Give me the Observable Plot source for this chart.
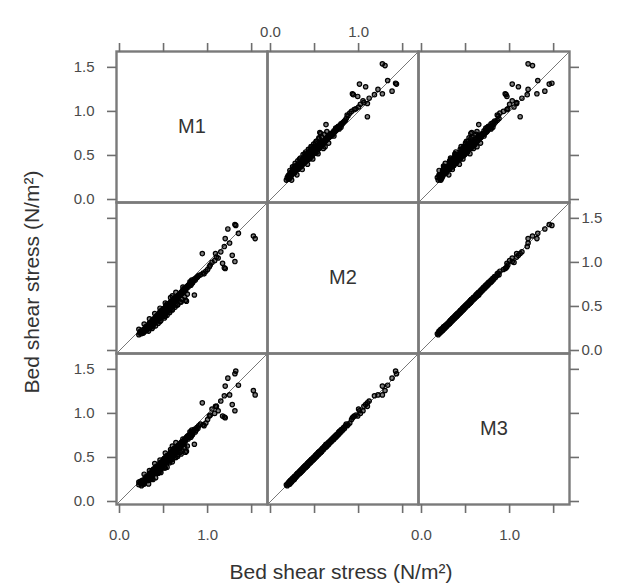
<!DOCTYPE html>
<html><head><meta charset="utf-8">
<script src="https://cdn.jsdelivr.net/npm/d3@7"></script>
<script src="https://cdn.jsdelivr.net/npm/@observablehq/plot@0.6"></script>
<style>
body{margin:0;background:#fff;font-family:"Liberation Sans",Arial,sans-serif;}
#wrap{position:relative;width:621px;height:586px;overflow:hidden;}
#xt{position:absolute;left:86px;width:510px;top:559px;text-align:center;font-size:21px;color:#333;line-height:26px;}
#yt{position:absolute;left:-223px;top:269px;width:510px;height:26px;line-height:26px;text-align:center;font-size:21px;color:#333;transform:rotate(-90deg);}
</style></head>
<body>
<div id="wrap"><div id="chart"></div>
<div id="xt">Bed shear stress (N/m²)</div>
<div id="yt">Bed shear stress (N/m²)</div>
</div>
<script>
const names = ["M1", "M2", "M3"];
const M1 = [
0.22,0.25,0.23,0.27,0.26,0.24,0.29,0.27,0.26,0.31,0.30,0.28,0.33,0.29,0.31,0.35,0.30,0.34,0.36,0.32,
0.33,0.38,0.35,0.37,0.34,0.40,0.39,0.36,0.41,0.38,0.37,0.43,0.40,0.42,0.39,0.44,0.45,0.41,0.43,0.47,
0.44,0.49,0.46,0.43,0.48,0.51,0.47,0.45,0.50,0.53,0.49,0.46,0.52,0.55,0.50,0.48,0.53,0.56,0.51,0.58,
0.54,0.52,0.57,0.55,0.53,0.59,0.56,0.61,0.54,0.58,0.60,0.57,0.62,0.59,0.76,0.61,0.63,0.60,0.65,0.62,
0.64,0.66,0.65,0.68,0.67,0.70,0.69,0.72,0.71,0.73,0.75,0.74,0.76,0.78,0.77,0.79,0.80,0.82,0.81,0.83,
0.84,0.86,0.85,0.87,0.88,0.89,0.90,0.63,0.69,0.70,0.72,0.76,0.79,0.80,0.60,0.71,0.75,0.74,0.78,0.83,
1.54,1.52,1.32,1.31,1.23,1.20,1.31,1.28,1.20,1.17,1.19,1.09,0.85,0.75,1.19,0.94,1.02,0.98,1.05,1.12,
0.95,0.92,1.00,1.08,1.15,1.25,1.35,0.96,1.03,1.10,0.66,0.70,0.60,
0.28,0.26,0.32,0.30,0.36,0.34,0.40,0.38,0.44,0.42,0.48,0.46,0.52,0.50,0.56,0.54,0.60,0.58,0.64,0.62,
0.24,0.33,0.34,0.41,0.42,0.49,0.50,0.57,0.58,0.65,0.66,0.73,0.74,0.81,0.82,0.54,0.51,0.60,0.45,0.47,
0.33,0.37,0.41,0.44,0.47,0.51,0.54,0.57,0.60,0.63,0.66,0.69,0.71,0.74,0.77,
0.22,0.28,0.34,0.40,0.46,0.52,0.58,0.64,0.72,0.82,0.38,0.46,0.52,0.57,0.64
];
const M2 = [
0.18,0.19,0.20,0.20,0.21,0.21,0.22,0.22,0.23,0.23,0.24,0.24,0.25,0.25,0.26,0.26,0.27,0.27,0.28,0.28,
0.29,0.29,0.30,0.30,0.31,0.31,0.32,0.32,0.33,0.33,0.34,0.34,0.35,0.35,0.36,0.36,0.37,0.37,0.38,0.38,
0.39,0.39,0.40,0.40,0.41,0.41,0.42,0.42,0.43,0.43,0.44,0.44,0.45,0.45,0.46,0.46,0.47,0.47,0.48,0.48,
0.49,0.49,0.50,0.50,0.51,0.51,0.52,0.52,0.53,0.53,0.54,0.54,0.55,0.55,0.56,0.56,0.57,0.57,0.58,0.58,
0.59,0.60,0.61,0.62,0.63,0.64,0.65,0.66,0.67,0.68,0.69,0.70,0.71,0.72,0.73,0.74,0.75,0.76,0.77,0.78,
0.79,0.80,0.81,0.82,0.83,0.84,0.85,0.60,0.63,0.66,0.69,0.72,0.75,0.78,0.62,0.65,0.68,0.71,0.74,0.77,
1.27,1.30,1.42,1.43,1.38,1.27,1.01,1.08,0.93,0.99,1.18,1.10,0.63,0.57,0.94,1.10,0.95,0.90,1.00,1.05,
0.88,0.86,0.92,1.02,1.12,1.22,1.33,0.87,0.97,1.06,0.52,0.55,0.47,
0.21,0.23,0.25,0.27,0.29,0.31,0.33,0.35,0.37,0.39,0.41,0.43,0.45,0.47,0.49,0.51,0.53,0.55,0.57,0.59,
0.22,0.26,0.30,0.34,0.38,0.42,0.46,0.50,0.54,0.58,0.62,0.66,0.70,0.74,0.78,0.44,0.48,0.52,0.36,0.40,
0.22,0.25,0.28,0.31,0.34,0.37,0.40,0.43,0.46,0.49,0.52,0.55,0.58,0.61,0.64,
0.24,0.30,0.36,0.42,0.48,0.54,0.60,0.66,0.72,0.80,0.27,0.33,0.39,0.45,0.51
];
const M3 = [
0.19,0.18,0.21,0.20,0.20,0.22,0.23,0.21,0.22,0.24,0.25,0.23,0.24,0.26,0.27,0.25,0.26,0.28,0.29,0.27,
0.28,0.30,0.31,0.29,0.30,0.32,0.33,0.31,0.32,0.34,0.35,0.33,0.34,0.36,0.37,0.35,0.36,0.38,0.39,0.37,
0.40,0.38,0.41,0.39,0.40,0.42,0.43,0.41,0.42,0.44,0.45,0.43,0.44,0.46,0.47,0.45,0.46,0.48,0.49,0.47,
0.48,0.50,0.51,0.49,0.50,0.52,0.53,0.51,0.52,0.54,0.55,0.53,0.54,0.56,0.57,0.55,0.56,0.58,0.59,0.57,
0.60,0.59,0.62,0.61,0.64,0.63,0.66,0.65,0.68,0.67,0.70,0.69,0.72,0.71,0.74,0.73,0.76,0.75,0.78,0.77,
0.80,0.79,0.82,0.81,0.84,0.83,0.86,0.61,0.62,0.67,0.68,0.73,0.74,0.79,0.63,0.64,0.69,0.70,0.75,0.76,
1.21,1.26,1.48,1.45,1.40,1.31,1.03,1.10,0.95,0.97,1.20,1.08,0.65,0.56,0.96,1.12,0.97,0.89,1.05,1.03,
0.87,0.88,0.93,1.00,1.14,1.21,1.32,0.86,0.98,1.08,0.53,0.54,0.48,
0.20,0.24,0.24,0.28,0.28,0.32,0.32,0.36,0.36,0.40,0.40,0.44,0.44,0.48,0.48,0.52,0.52,0.56,0.56,0.60,
0.23,0.25,0.31,0.33,0.39,0.41,0.47,0.49,0.55,0.57,0.63,0.65,0.71,0.73,0.79,0.45,0.47,0.53,0.35,0.41,
0.20,0.26,0.27,0.32,0.33,0.38,0.39,0.44,0.45,0.50,0.51,0.56,0.57,0.62,0.63,
0.22,0.31,0.35,0.43,0.47,0.55,0.59,0.67,0.71,0.81,0.25,0.34,0.38,0.46,0.50
];
const tickValues = [0, 0.5, 1, 1.5];
const xLabelValues = [0, 1];
const xLabelTexts = ["0.0", "1.0"];
const yLabelValues = [0, 0.5, 1, 1.5];
const yLabelTexts = ["0.0", "0.5", "1.0", "1.5"];
const scaleDomain = [-0.034, 1.68];

const series = {M1, M2, M3};
const pairs = [];
const offDiag = [];
for (const r of names) for (const c of names) {
  if (r === c) continue;
  offDiag.push({row: r, col: c});
  series.M1.forEach((_, k) => pairs.push({row: r, col: c, x: series[c][k], y: series[r][k]}));
}
function labelRows(values, texts, col, row) {
  return values.map((v, i) => ({col, row, v, t: texts[i]}));
}
const topLab = labelRows(xLabelValues, xLabelTexts, "M2", "M1");
const botLab = [...labelRows(xLabelValues, xLabelTexts, "M1", "M3"), ...labelRows(xLabelValues, xLabelTexts, "M3", "M3")];
const leftLab = [...labelRows(yLabelValues, yLabelTexts, "M1", "M1"), ...labelRows(yLabelValues, yLabelTexts, "M1", "M3")];
const rightLab = labelRows(yLabelValues, yLabelTexts, "M3", "M2");

const axisStyle = {tickSize: 9, fill: "none", label: null, stroke: "#6e6e6e", strokeWidth: 1.6};
const labStyle = {fill: "#4a4a4a", fontSize: 15};
const chart = Plot.plot({
  width: 621, height: 586,
  marginLeft: 115, marginRight: 51, marginTop: 50, marginBottom: 81,
  x: {domain: scaleDomain},
  y: {domain: scaleDomain},
  fx: {domain: names, padding: 0, axis: null},
  fy: {domain: names, padding: 0, axis: null},
  style: {fontFamily: "'Liberation Sans', Arial, sans-serif", background: "transparent"},
  marks: [
    Plot.link(offDiag, {x1: scaleDomain[0], y1: scaleDomain[0], x2: scaleDomain[1], y2: scaleDomain[1], fx: "col", fy: "row", stroke: "#555", strokeWidth: 0.8}),
    Plot.dot(pairs, {x: "x", y: "y", fx: "col", fy: "row", r: 2.2, stroke: "#000", strokeWidth: 1.2, fill: "#000", fillOpacity: 0.5}),
    Plot.text(names, {fx: d => d, fy: d => d, text: d => d, frameAnchor: "middle", fontSize: 20, fill: "#333"}),
    Plot.frame({stroke: "#7a7a7a", strokeWidth: 2.4}),
    Plot.axisX(tickValues, {anchor: "top", ...axisStyle}),
    Plot.axisX(tickValues, {anchor: "bottom", ...axisStyle}),
    Plot.axisY(tickValues, {anchor: "left", ...axisStyle}),
    Plot.axisY(tickValues, {anchor: "right", ...axisStyle}),
    Plot.text(topLab, {x: "v", fx: "col", fy: "row", text: "t", frameAnchor: "top", dy: -25, ...labStyle}),
    Plot.text(botLab, {x: "v", fx: "col", fy: "row", text: "t", frameAnchor: "bottom", dy: 35, ...labStyle}),
    Plot.text(leftLab, {y: "v", fx: "col", fy: "row", text: "t", frameAnchor: "left", dx: -22, textAnchor: "end", ...labStyle}),
    Plot.text(rightLab, {y: "v", fx: "col", fy: "row", text: "t", frameAnchor: "right", dx: 12, textAnchor: "start", ...labStyle})
  ]
});
document.getElementById("chart").appendChild(chart);
</script>
</body></html>
